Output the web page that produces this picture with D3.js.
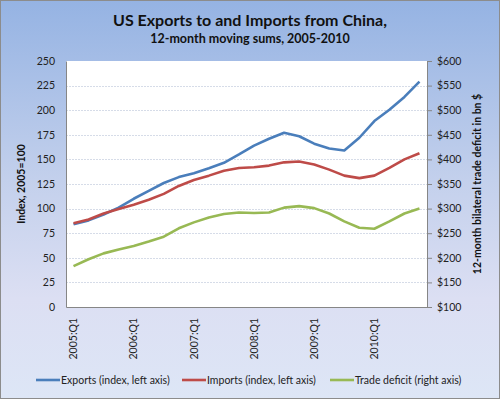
<!DOCTYPE html>
<html>
<head>
<meta charset="utf-8">
<script src="https://cdnjs.cloudflare.com/ajax/libs/d3/7.8.5/d3.min.js"></script>
<style>
  body { margin: 0; }
  svg { font-family: Lato, "Open Sans", sans-serif; }
</style>
</head>
<body>
<div id="chart"></div>
<script>
// quarters 2005:Q1 .. 2010:Q4
var quarters = [];
[2005, 2006, 2007, 2008, 2009, 2010].forEach(function(y) {
  ["Q1", "Q2", "Q3", "Q4"].forEach(function(q) { quarters.push(y + ":" + q); });
});

var exportsIdx = [84, 88, 94, 101, 110, 118, 126, 132, 136, 141, 146.5, 155,
                  164, 171, 177, 173.5, 166, 161, 159, 172, 189, 200.5, 213.5, 229];
var importsIdx = [85, 89, 95, 99.5, 104, 109, 115, 123, 129, 133.5, 138.5, 141.3,
                  142, 143.7, 147, 147.8, 144.8, 139.6, 133.5, 131, 133.5, 141.3, 150, 156.3];
var tradeDeficit = [183, 197, 209, 217, 224, 233, 243, 260, 272, 282, 289, 292,
                    291, 292, 302, 305, 301, 290, 274, 261, 259, 274, 290, 300];

var leftTicks = [0, 25, 50, 75, 100, 125, 150, 175, 200, 225, 250];
var rightTicks = [100, 150, 200, 250, 300, 350, 400, 450, 500, 550, 600];
var xLabels = ["2005:Q1", "2006:Q1", "2007:Q1", "2008:Q1", "2009:Q1", "2010:Q1"];

var series = [
  { name: "Exports (index, left axis)", values: exportsIdx, color: "#4a7ebb", axis: "left" },
  { name: "Imports (index, left axis)", values: importsIdx, color: "#be4b48", axis: "left" },
  { name: "Trade deficit (right axis)", values: tradeDeficit, color: "#98b954", axis: "right" }
];

var width = 500, height = 399;
var plot = { left: 66, right: 427, top: 61, bottom: 307 };

var svg = d3.select("#chart").append("svg")
    .attr("width", width)
    .attr("height", height);

var defs = svg.append("defs");
var grad = defs.append("linearGradient")
    .attr("id", "bg").attr("x1", 0).attr("y1", 0).attr("x2", 0).attr("y2", 1);
grad.append("stop").attr("offset", "0%").attr("stop-color", "#95b3e3");
grad.append("stop").attr("offset", "45%").attr("stop-color", "#c3d0ec");
grad.append("stop").attr("offset", "75%").attr("stop-color", "#dcdff3");
grad.append("stop").attr("offset", "100%").attr("stop-color", "#dde6f6");

svg.append("rect")
    .attr("x", 0.5).attr("y", 0.5)
    .attr("width", width - 1).attr("height", height - 1)
    .attr("fill", "url(#bg)")
    .attr("stroke", "#8c8c8c");

// title
svg.append("text")
    .attr("x", 250).attr("y", 26)
    .attr("text-anchor", "middle")
    .style("font-size", "16px").style("font-weight", "bold")
    .attr("fill", "#111")
    .text("US Exports to and Imports from China,");
svg.append("text")
    .attr("x", 250).attr("y", 43)
    .attr("text-anchor", "middle")
    .style("font-size", "12.5px").style("font-weight", "bold")
    .attr("fill", "#111")
    .text("12-month moving sums, 2005-2010");

// scales
var x = d3.scaleBand()
    .domain(quarters)
    .range([plot.left, plot.right]);

var yLeft = d3.scaleLinear().domain([0, 250]).range([plot.bottom, plot.top]);
var yRight = d3.scaleLinear().domain([100, 600]).range([plot.bottom, plot.top]);

svg.append("rect")
    .attr("x", plot.left).attr("y", plot.top)
    .attr("width", plot.right - plot.left).attr("height", plot.bottom - plot.top)
    .attr("fill", "#fff");

// gridlines
svg.append("g")
  .selectAll("line")
  .data(leftTicks.slice(1, -1))
  .enter()
  .append("line")
    .attr("x1", plot.left).attr("x2", plot.right)
    .attr("y1", function(d) { return Math.round(yLeft(d)) + 0.5; })
    .attr("y2", function(d) { return Math.round(yLeft(d)) + 0.5; })
    .attr("stroke", "#d6dce8")
    .attr("stroke-dasharray", "2,1");

// left axis
var leftAxis = svg.append("g")
    .attr("transform", "translate(" + plot.left + ",0)")
    .call(d3.axisLeft(yLeft).tickValues(leftTicks).tickSize(0).tickPadding(11));
leftAxis.select(".domain").attr("stroke", "#868686");
leftAxis.selectAll("text")
    .style("font-size", "10.5px").attr("fill", "#222")
    .style("font-family", "Lato, sans-serif");

// right axis
var rightAxis = svg.append("g")
    .attr("transform", "translate(" + plot.right + ",0)")
    .call(d3.axisRight(yRight).tickValues(rightTicks).tickSize(5).tickPadding(5)
      .tickFormat(function(d) { return "$" + d; }));
rightAxis.select(".domain").attr("stroke", "#868686");
rightAxis.selectAll("line").attr("stroke", "#868686");
rightAxis.selectAll("text")
    .style("font-size", "10.5px").attr("fill", "#222")
    .style("font-family", "Lato, sans-serif");

// bottom axis
var bottomAxis = svg.append("g")
    .attr("transform", "translate(0," + plot.bottom + ")")
    .call(d3.axisBottom(x).tickValues(xLabels).tickSize(0).tickPadding(0));
bottomAxis.select(".domain").attr("stroke", "#868686");
bottomAxis.selectAll("text")
    .style("font-size", "10.5px").attr("fill", "#222")
    .style("font-family", "Lato, sans-serif")
    .attr("text-anchor", "end")
    .attr("dy", "0.35em")
    .attr("transform", "translate(0,11) rotate(-90)")
    .attr("y", 0).attr("x", 0);

// axis titles
svg.append("text")
    .attr("transform", "translate(25,184) rotate(-90)")
    .attr("text-anchor", "middle")
    .style("font-size", "10.5px").style("font-weight", "bold")
    .attr("fill", "#111")
    .text("Index, 2005=100");
svg.append("text")
    .attr("transform", "translate(481,184) rotate(-90)")
    .attr("text-anchor", "middle")
    .style("font-size", "10.5px").style("font-weight", "bold")
    .attr("fill", "#111")
    .text("12-month bilateral trade deficit in bn $");

// lines
var lines = svg.append("g");
series.forEach(function(s) {
  var yS = s.axis === "left" ? yLeft : yRight;
  var line = d3.line()
      .x(function(d, i) { return x(quarters[i]) + x.bandwidth() / 2; })
      .y(function(d) { return yS(d); });
  lines.append("path")
      .datum(s.values)
      .attr("d", line)
      .attr("fill", "none")
      .attr("stroke", s.color)
      .attr("stroke-width", 2.6)
      .attr("stroke-linejoin", "round");
});

// legend
var legendX = [36, 182, 330];
var legend = svg.append("g");
series.forEach(function(s, i) {
  legend.append("line")
      .attr("x1", legendX[i]).attr("x2", legendX[i] + 24)
      .attr("y1", 380).attr("y2", 380)
      .attr("stroke", s.color)
      .attr("stroke-width", 2.6);
  legend.append("text")
      .attr("x", legendX[i] + 25).attr("y", 384)
      .style("font-size", "10.5px")
      .attr("fill", "#222")
      .text(s.name);
});
</script>
</body>
</html>
